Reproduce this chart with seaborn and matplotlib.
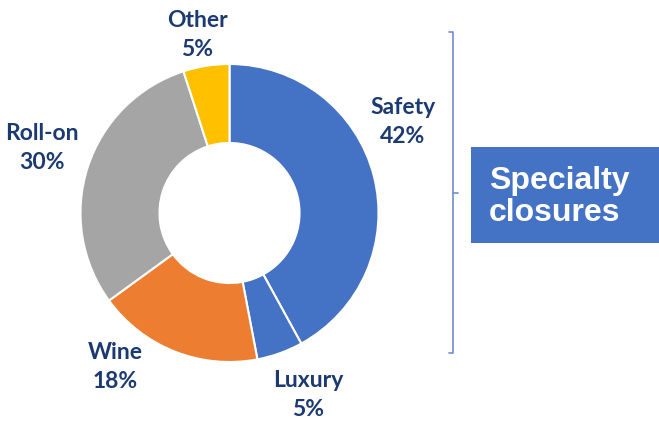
import matplotlib
matplotlib.use("Agg")
import matplotlib.pyplot as plt
import seaborn as sns
from matplotlib.patches import Rectangle

sns.set_theme(style="white")
plt.rcParams['font.family'] = ['Lato', 'DejaVu Sans']

categories = ["Safety", "Luxury", "Wine", "Roll-on", "Other"]
shares = [42, 5, 18, 30, 5]
colors = ["#4472C4", "#4472C4", "#ED7D31", "#A5A5A5", "#FFC000"]
label_texts = [f"{c}\n{v}%" for c, v in zip(categories, shares)]
box_text = "Specialty\nclosures"

W, H = 659, 423
fig = plt.figure(figsize=(W / 100, H / 100), dpi=100)
ax = fig.add_axes([0, 0, 1, 1])
ax.set_xlim(0, W)
ax.set_ylim(0, H)
ax.axis("off")

cx, cy, R = 229.5, H - 213, 149
ax.pie(shares, colors=colors, startangle=90, counterclock=False,
       center=(cx, cy), radius=R,
       wedgeprops=dict(width=R * 0.53, edgecolor="white", linewidth=1.5))
ax.set_xlim(0, W)
ax.set_ylim(0, H)
ax.set_aspect("auto")

label_pos = [(403, 122), (308, 395), (115, 367), (42, 148), (197, 35)]
for txt, (x, y) in zip(label_texts, label_pos):
    ax.text(x, H - y, txt, ha="center", va="center", color="#1B3A72",
            fontsize=16.5, fontweight="bold", linespacing=1.45)

# bracket
bc = "#6F8FD0"
bx = 453
ax.plot([bx - 4, bx, bx, bx - 4], [H - 32, H - 32, H - 353, H - 353], color=bc, lw=1.2)
ax.plot([bx, bx + 5], [H - 193, H - 193], color=bc, lw=1.2)

# box
ax.add_patch(Rectangle((471, H - 243), W - 471, 96, facecolor="#4472C4", edgecolor="none"))
ax.text(489, H - 197, box_text, ha="left", va="center", color="white",
        fontsize=23, fontweight="bold", family=["Liberation Sans", "DejaVu Sans"],
        linespacing=1.1)

fig.savefig("out.png", dpi=100)
